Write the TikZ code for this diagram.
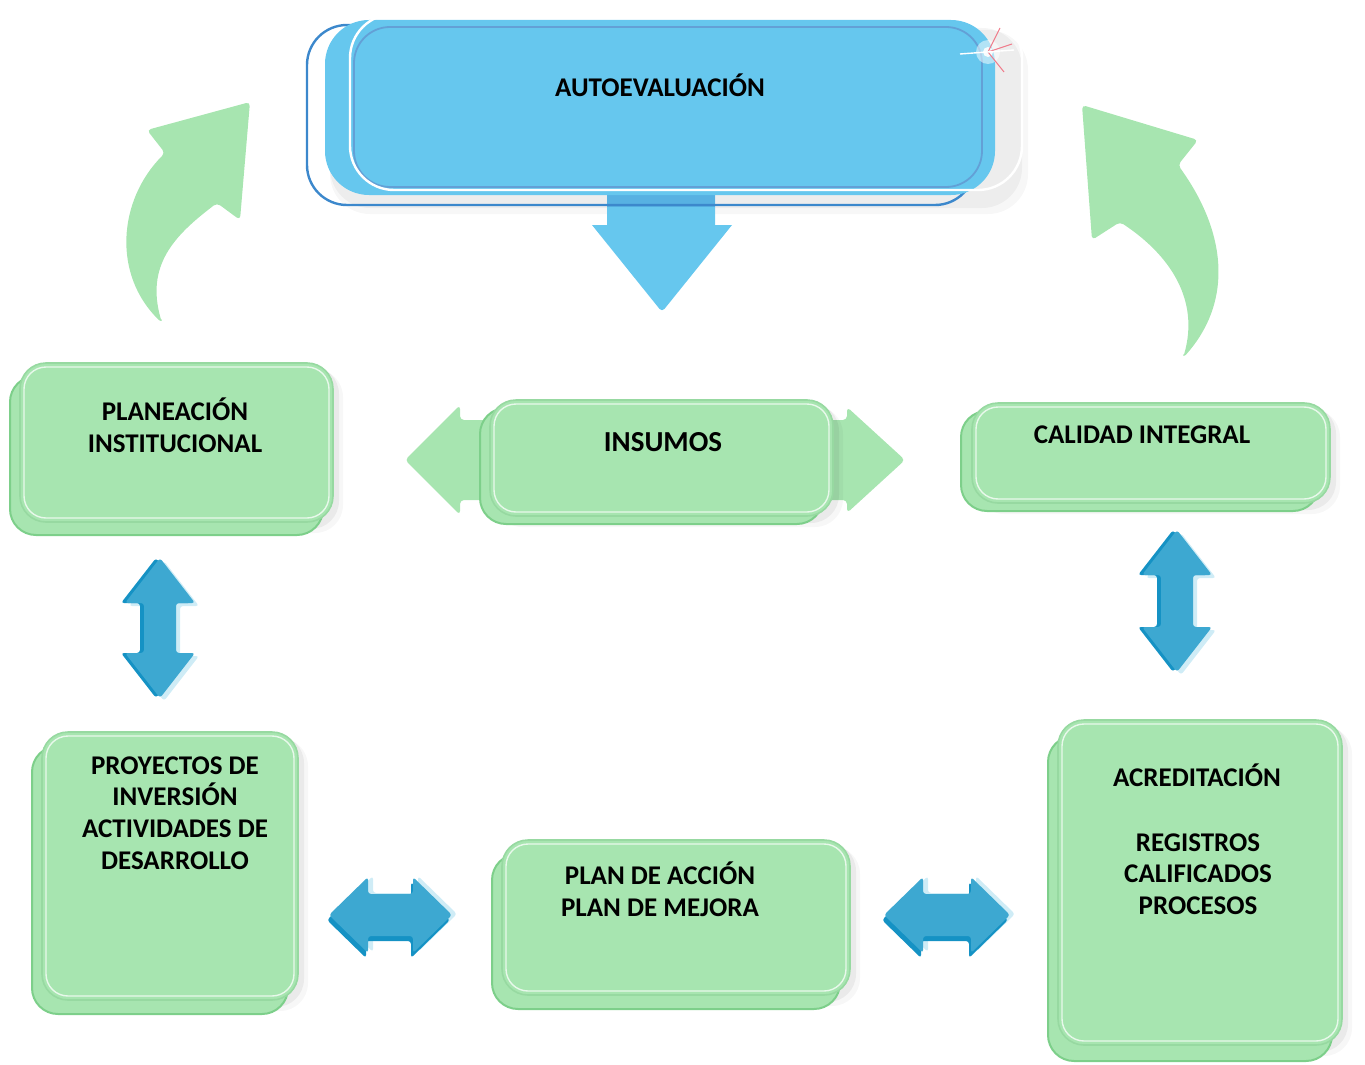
\documentclass[tikz,border=0pt]{standalone}
\usepackage{fontspec}
\setmainfont{Carlito}
\usetikzlibrary{fit}
\definecolor{gfill}{HTML}{A7E5B0}
\definecolor{gline}{HTML}{7DCF8A}
\definecolor{bfill}{HTML}{66C7EE}
\definecolor{bline}{HTML}{3C88CC}
\definecolor{abl}{HTML}{3DA8D1}
\definecolor{abd}{HTML}{1592C4}
\definecolor{abx}{HTML}{CFECF6}
\definecolor{spk}{HTML}{F07A8A}
\tikzset{
  frontbox/.style={draw=gline!80, fill=gfill, line width=0.8pt, rounded corners=13pt, inner sep=0pt},
  backbox/.style={draw=gline, fill=gfill, line width=1pt, rounded corners=13pt, inner sep=0pt},
  lbl/.style={font=\bfseries\fontsize{13.5}{15.8}\selectfont, align=center, inner sep=0pt, text=black},
  curvarrow/.style={fill=gfill, rounded corners=2pt},
}
% name, x1, y1, x2, y2, dx, dy
\newcommand{\gbox}[7]{%
  \fill[black,opacity=0.03,rounded corners=14pt] ({#2+4},{#3+6}) rectangle ({#4+10},{#5+11});
  \fill[black,opacity=0.05,rounded corners=14pt] ({#2+2},{#3+3}) rectangle ({#4+6},{#5+7});
  \node[backbox, fit={({#2+#6},{#3+#7}) ({#4+#6},{#5+#7})}] (#1back) {};
  \node[frontbox, fit={(#2,#3) (#4,#5)}] (#1) {};
  \draw[white, opacity=0.75, line width=0.7pt, rounded corners=11pt] ({#2+4},{#3+4}) rectangle ({#4-4},{#5-4});
}
% style, cx, ytop, ybot
\newcommand{\vdshape}[4]{%
  \fill[#1, rounded corners=1.5pt] (#2,#3) -- ({#2+35},{#3+45}) -- ({#2+16},{#3+45}) -- ({#2+16},{#4-45})
    -- ({#2+35},{#4-45}) -- (#2,#4) -- ({#2-35},{#4-45}) -- ({#2-16},{#4-45}) -- ({#2-16},{#3+45})
    -- ({#2-35},{#3+45}) -- cycle;}
% style, xl, xr, cy
\newcommand{\hdshape}[4]{%
  \fill[#1, rounded corners=1.5pt] (#2,#4) -- ({#2+39},{#4-38}) -- ({#2+39},{#4-21}) -- ({#3-39},{#4-21})
    -- ({#3-39},{#4-38}) -- (#3,#4) -- ({#3-39},{#4+38}) -- ({#3-39},{#4+21}) -- ({#2+39},{#4+21})
    -- ({#2+39},{#4+38}) -- cycle;}
\newcommand{\vdarrow}[3]{%
  \begin{scope}[shift={(8,3)}]\vdshape{abx}{#1}{#2}{#3}\end{scope}
  \vdshape{abd}{#1}{#2}{#3}
  \begin{scope}[shift={(4,0)}]\vdshape{abl}{#1}{#2}{#3}\end{scope}}
\newcommand{\hdarrow}[3]{%
  \begin{scope}[shift={(7,-6)}]\hdshape{abx}{#1}{#2}{#3}\end{scope}
  \hdshape{abd}{#1}{#2}{#3}
  \begin{scope}[shift={(2,-5)}]\hdshape{abl}{#1}{#2}{#3}\end{scope}}
\begin{document}
\begin{tikzpicture}[x=0.5pt,y=-0.5pt]
\useasboundingbox (0,0) rectangle (1365,1065);

% ---------- top box AUTOEVALUACION ----------
\fill[black,opacity=0.03,rounded corners=20pt] (330,30) rectangle (1028,214);
\fill[black,opacity=0.04,rounded corners=20pt] (330,28) rectangle (1022,208);
\fill[bfill] (607,185) -- (715,185) -- (715,225) -- (732,225) [rounded corners=2pt] -- (662,312) [sharp corners] -- (592,225) -- (607,225) -- cycle;
\fill[bline,opacity=0.35] (607,192) rectangle (715,207);
\node[fit={(307,25) (975,205)}, draw=bline, line width=1.2pt, rounded corners=20pt, inner sep=0pt] (autoback) {};
\node[fit={(325,20) (995,195)}, fill=bfill, rounded corners=22pt, inner sep=0pt] (auto) {};
\draw[bline!80, line width=0.9pt, rounded corners=18pt] (354,27) rectangle (982,187);
\draw[white, line width=1.2pt, rounded corners=22pt] (350,14) rectangle (1022,190);
% sparkle
\fill[white,opacity=0.5] (988,52) circle (12);
\fill[white,opacity=0.9] (988,52) circle (5);
\draw[spk, line width=0.5pt] (988,52) -- (1000,28);
\draw[spk, line width=0.5pt] (988,52) -- (1012,44);
\draw[spk, line width=0.5pt] (988,52) -- (1004,72);
\draw[white, line width=0.7pt] (960,54) -- (1014,50);
\node[lbl] (tauto) at (660,85) {AUTOEVALUACIÓN};

% ---------- curved green arrows ----------
\fill[curvarrow] (162,323) .. controls (112,275) and (118,200) .. (165,153) -- (147,130) -- (250,102) -- (240,220) -- (217,203) .. controls (175,235) and (145,265) .. (162,323) -- cycle;
\fill[curvarrow] (1183,358) .. controls (1235,300) and (1225,230) .. (1178,165) -- (1198,140) -- (1082,105) -- (1092,240) -- (1120,222) .. controls (1170,255) and (1200,300) .. (1183,358) -- cycle;

% ---------- INSUMOS double arrow ----------
\fill[gfill, rounded corners=2pt] (405,460) -- (460,405) -- (460,420) -- (847,420) -- (847,407) -- (905,460) -- (847,513) -- (847,500) -- (460,500) -- (460,515) -- cycle;

% ---------- green boxes ----------
\gbox{plan}{20}{363}{333}{522}{-10}{13}
\node[lbl] (tplan) at (175,425) {PLANEACIÓN\\INSTITUCIONAL};

\gbox{insumos}{490}{400}{833}{516}{-10}{8}
\node[lbl, font=\bfseries\fontsize{14.5}{17}\selectfont] (tins) at (663,442) {INSUMOS};

\gbox{calidad}{972}{403}{1330}{503}{-11}{8}
\node[lbl] (tcal) at (1142,435) {CALIDAD INTEGRAL};

\gbox{proy}{42}{732}{298}{1000}{-10}{14}
\node[lbl] (tproy) at (175,813) {PROYECTOS DE\\INVERSIÓN\\ACTIVIDADES DE\\DESARROLLO};

\gbox{accion}{502}{840}{850}{995}{-10}{14}
\node[lbl] (tacc) at (660,889) {PLAN DE ACCIÓN\\PLAN DE MEJORA};

\gbox{acred}{1058}{720}{1342}{1045}{-10}{16}
\node[lbl] (tacr1) at (1197,775) {ACREDITACIÓN};
\node[lbl] (tacr2) at (1198,874) {REGISTROS\\CALIFICADOS\\PROCESOS};

% ---------- blue double arrows ----------
\vdarrow{156}{558}{698}
\vdarrow{1173}{530}{672}
\hdarrow{327}{450}{920}
\hdarrow{882}{1008}{920}
\end{tikzpicture}
\end{document}
